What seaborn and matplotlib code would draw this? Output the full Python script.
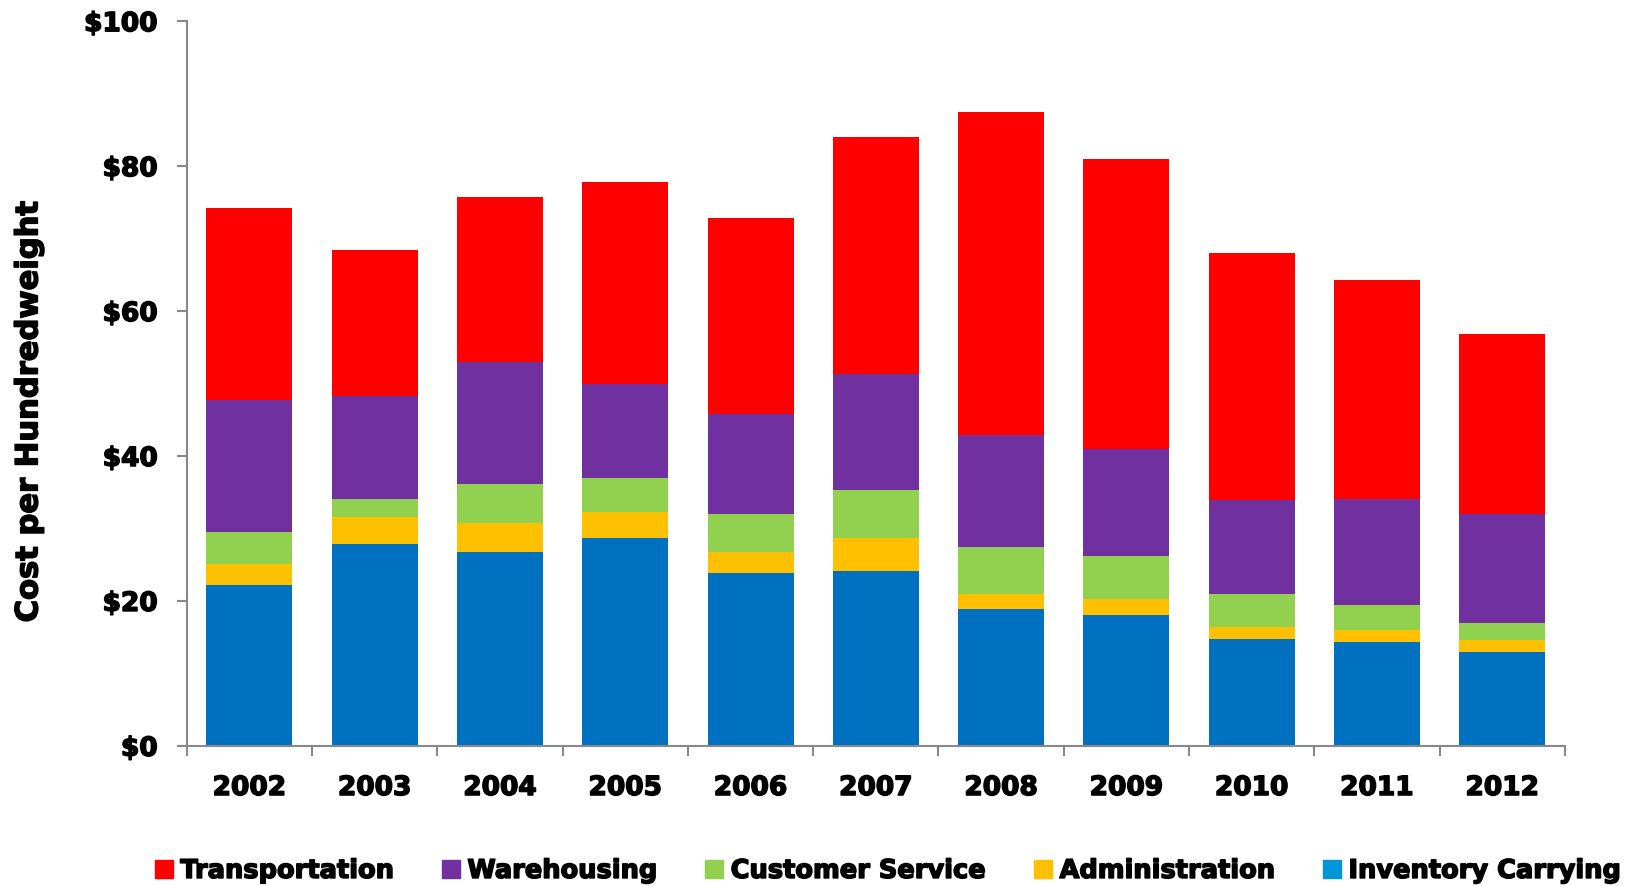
import matplotlib

matplotlib.use("Agg")
import matplotlib.patheffects as pe
import matplotlib.pyplot as plt
import numpy as np
import pandas as pd
import seaborn as sns
from matplotlib.patches import Patch

years = ["2002", "2003", "2004", "2005", "2006", "2007", "2008", "2009", "2010", "2011", "2012"]
# cumulative top of each layer
top_inventory = [22.2, 27.8, 26.7, 28.7, 23.8, 24.1, 18.9, 18.0, 14.7, 14.3, 13.0]
top_admin = [25.1, 31.6, 30.7, 32.3, 26.8, 28.7, 20.9, 20.2, 16.4, 16.0, 14.6]
top_customer = [29.5, 34.0, 36.2, 37.0, 32.0, 35.3, 27.4, 26.2, 20.9, 19.5, 16.9]
top_warehouse = [47.7, 48.3, 52.9, 50.0, 45.8, 51.3, 42.9, 40.9, 33.9, 34.0, 32.0]
top_transport = [74.2, 68.4, 75.8, 77.8, 72.9, 84.0, 87.5, 81.0, 68.0, 64.3, 56.8]

series = ["Transportation", "Warehousing", "Customer Service", "Administration", "Inventory Carrying"]
bar_colors = ["#FF0000", "#7030A0", "#92D050", "#FFC000", "#0070C0"]
legend_colors = ["#FF0000", "#7030A0", "#92D050", "#FFC000", "#0096D6"]

df = pd.DataFrame(
    {
        "year": years,
        "Inventory Carrying": top_inventory,
        "Administration": np.subtract(top_admin, top_inventory),
        "Customer Service": np.subtract(top_customer, top_admin),
        "Warehousing": np.subtract(top_warehouse, top_customer),
        "Transportation": np.subtract(top_transport, top_warehouse),
    }
)

sns.set_theme(style="white")
plt.rcParams["font.family"] = ["DejaVu Sans"]
plt.rcParams["font.weight"] = "bold"
plt.rcParams["text.color"] = "black"
plt.rcParams["xtick.color"] = "black"
plt.rcParams["ytick.color"] = "black"

heavy = [pe.withStroke(linewidth=1.1, foreground="black")]

fig = plt.figure(figsize=(16.38, 8.87), dpi=100)
ax = fig.add_axes([0.114, 0.158, 0.8414, 0.817])

bottom = np.zeros(len(years))
for name, color in zip(series[::-1], bar_colors[::-1]):
    sns.barplot(data=df, x="year", y=name, color=color, bottom=bottom, width=0.686,
                ax=ax, saturation=1, linewidth=0)
    bottom = bottom + df[name].to_numpy()

ax.set_xlim(-0.5, len(years) - 0.5)
ax.set_ylim(0, 100)
ax.set_yticks(range(0, 101, 20))
ax.set_yticklabels([f"${v}" for v in range(0, 101, 20)])
ax.set_xticks(np.arange(-0.5, len(years)), minor=True)
ax.tick_params(axis="x", which="major", bottom=True, length=0, pad=21, labelsize=19,
               labelcolor="black")
ax.tick_params(axis="x", which="minor", bottom=True, length=7, width=1.5,
               color="#888888", direction="out")
ax.tick_params(axis="y", left=True, length=7, width=1.5, color="#888888", direction="out",
               labelsize=19, pad=14, labelcolor="black")
for lab in ax.get_xticklabels() + ax.get_yticklabels():
    lab.set_fontweight("bold")
    lab.set_path_effects(heavy)

for side in ["top", "right"]:
    ax.spines[side].set_visible(False)
for side in ["left", "bottom"]:
    ax.spines[side].set_color("#888888")
    ax.spines[side].set_linewidth(1.5)

ax.set_xlabel("")
ax.set_ylabel("Cost per Hundredweight", fontsize=22, fontweight="bold", color="black",
              path_effects=heavy)
ax.yaxis.set_label_coords(-0.104, 0.46)

handles = [Patch(color=c, label=s) for s, c in zip(series, legend_colors)]
leg = fig.legend(handles=handles, loc="center", bbox_to_anchor=(0.542, 0.017), ncol=5,
                 frameon=False, prop={"size": 18.5, "weight": "bold"}, handlelength=0.7,
                 handleheight=0.7, handletextpad=0.3, columnspacing=1.85, labelcolor="black")
for t in leg.get_texts():
    t.set_path_effects(heavy)

fig.savefig("out.png", dpi=100)
